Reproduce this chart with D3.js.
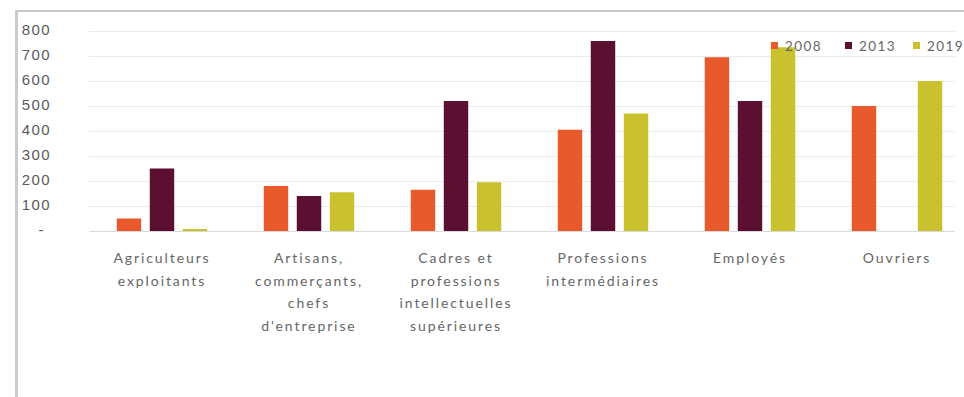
<!DOCTYPE html>
<html lang="fr">
<head>
<meta charset="utf-8">
<script src="https://cdn.jsdelivr.net/npm/d3@7"></script>
<style>
  html, body { margin: 0; padding: 0; background: #fff; }
  svg { display: block; font-family: Lato, "Open Sans", sans-serif; }
</style>
</head>
<body>
<svg id="chart" width="964" height="397"></svg>
<script>
// Catégories socioprofessionnelles (libellés sur plusieurs lignes)
const categories = [
  "Agriculteurs exploitants",
  "Artisans, commerçants, chefs d'entreprise",
  "Cadres et professions intellectuelles supérieures",
  "Professions intermédiaires",
  "Employés",
  "Ouvriers"
];
const categoryLines = [
  ["Agriculteurs", "exploitants"],
  ["Artisans,", "commerçants,", "chefs", "d'entreprise"],
  ["Cadres et", "professions", "intellectuelles", "supérieures"],
  ["Professions", "intermédiaires"],
  ["Employés"],
  ["Ouvriers"]
];
const years = ["2008", "2013", "2019"];
const values2008 = [50, 180, 165, 405, 695, 500];
const values2013 = [250, 140, 520, 760, 520, 0];
const values2019 = [8, 155, 195, 470, 735, 600];
const yTicks = [0, 100, 200, 300, 400, 500, 600, 700, 800];
const colors = ["#e85a2c", "#5b0f31", "#c9c22e"];

const seriesValues = [values2008, values2013, values2019];

const svg = d3.select("#chart");

// Cadre du graphique
svg.append("line").attr("x1", 16).attr("x2", 964).attr("y1", 11).attr("y2", 11)
  .attr("stroke", "#c9c9c9").attr("stroke-width", 2);
svg.append("line").attr("x1", 16.5).attr("x2", 16.5).attr("y1", 10).attr("y2", 397)
  .attr("stroke", "#cbcbcb").attr("stroke-width", 3);

const x0 = d3.scaleBand().domain(categories).range([88.5, 970.5]).paddingInner(0).paddingOuter(0);
const x1 = d3.scaleBand().domain(years).range([0, x0.bandwidth()])
  .paddingInner(0.26).paddingOuter(0.856);
const y = d3.scaleLinear().domain([0, 800]).range([231, 31]);

// Quadrillage horizontal
const grid = svg.append("g")
  .attr("transform", "translate(89,0)")
  .call(d3.axisLeft(y).tickValues(yTicks).tickSize(-(955 - 89)).tickFormat(""));
grid.select(".domain").remove();
grid.selectAll(".tick line")
  .attr("stroke", d => d === 0 ? "#dadada" : "#ebebeb").attr("stroke-width", 1.2);

// Libellés de l'axe vertical
const yAxis = svg.append("g").attr("transform", "translate(51,0)")
  .call(d3.axisLeft(y).tickValues(yTicks).tickSize(0).tickPadding(0)
    .tickFormat(d => d === 0 ? "-" : d3.format("d")(d)));
yAxis.select(".domain").remove();
yAxis.selectAll("text")
  .attr("fill", "#5a5a5a").attr("font-size", 15).attr("letter-spacing", 1.4)
  .attr("dy", "0.2em");
yAxis.selectAll(".tick").filter(d => d === 0).select("text").attr("dx", -6);

// Barres groupées
const groups = svg.append("g").selectAll("g")
  .data(categories)
  .join("g")
  .attr("transform", d => `translate(${x0(d)},0)`);

groups.selectAll("rect")
  .data((d, i) => years.map((yr, j) => ({ yr, v: seriesValues[j][i], c: colors[j] })))
  .join("rect")
  .attr("x", d => x1(d.yr))
  .attr("width", x1.bandwidth())
  .attr("y", d => y(d.v))
  .attr("height", d => y(0) - y(d.v))
  .attr("fill", d => d.c);

// Libellés des catégories
const xLabels = svg.append("g");
categories.forEach((c, i) => {
  const cx = x0(c) + x0.bandwidth() / 2;
  const t = xLabels.append("text")
    .attr("x", cx)
    .attr("y", 263)
    .attr("text-anchor", "middle")
    .attr("fill", "#666")
    .attr("font-size", 14)
    .attr("letter-spacing", 1.9);
  categoryLines[i].forEach((line, k) => {
    t.append("tspan")
      .attr("x", cx)
      .attr("dy", k === 0 ? 0 : 22.5)
      .text(line);
  });
});

// Légende
const legendX = [771, 845, 913];
const legend = svg.append("g");
years.forEach((yr, j) => {
  legend.append("rect")
    .attr("x", legendX[j]).attr("y", 42).attr("width", 7).attr("height", 7)
    .attr("fill", colors[j]);
  legend.append("text")
    .attr("x", legendX[j] + 14).attr("y", 50.5)
    .attr("fill", "#666").attr("font-size", 13.5).attr("letter-spacing", 1.4)
    .text(yr);
});
</script>
</body>
</html>
